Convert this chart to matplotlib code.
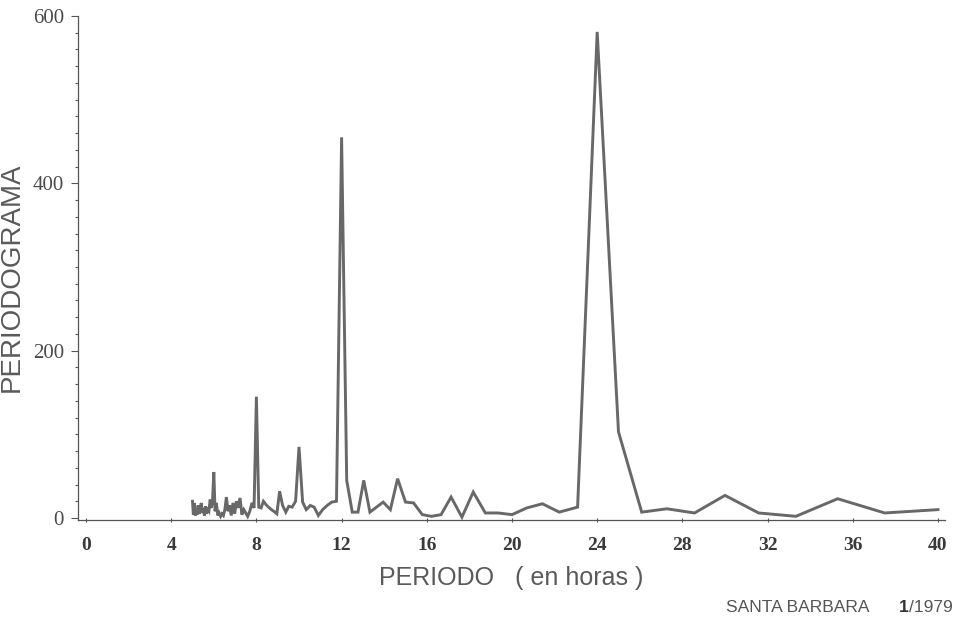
import matplotlib
matplotlib.use("Agg")
import matplotlib.pyplot as plt
from matplotlib.ticker import MultipleLocator

# Periods (hours) of the periodogram ordinates, from 40 h down to 5 h
periodo = [40.0, 37.5, 35.29, 33.33, 31.58, 30.0, 28.57, 27.27, 26.09, 25.0,
           24.0, 23.08, 22.22, 21.43, 20.69, 20.0, 19.35, 18.75, 18.18, 17.65,
           17.14, 16.67, 16.22, 15.79, 15.38, 15.0, 14.63, 14.29, 13.95, 13.64,
           13.33, 13.04, 12.77, 12.5, 12.24, 12.0, 11.76, 11.54, 11.32, 11.11,
           10.91, 10.71, 10.53, 10.34, 10.17, 10.0, 9.84, 9.68, 9.52, 9.38,
           9.23, 9.09, 8.96, 8.82, 8.70, 8.57, 8.45, 8.33, 8.22, 8.11,
           8.0, 7.89, 7.79, 7.69, 7.59, 7.5, 7.41, 7.32, 7.23, 7.14,
           7.06, 6.98, 6.90, 6.82, 6.74, 6.67, 6.59, 6.52, 6.45, 6.38,
           6.32, 6.25, 6.19, 6.12, 6.06, 6.0, 5.94, 5.88, 5.83, 5.77,
           5.71, 5.66, 5.61, 5.56, 5.50, 5.45, 5.41, 5.36, 5.31, 5.26,
           5.22, 5.17, 5.13, 5.08, 5.04, 5.0]

periodograma = [10, 6, 23, 2, 6, 27, 6, 11, 7, 103,
                581, 13, 7, 17, 12, 4, 6, 6, 31, 1,
                25, 4, 2, 4, 18, 19, 47, 10, 19, 13,
                7, 45, 7, 7, 45, 455, 20, 19, 15, 10,
                3, 13, 15, 10, 19, 85, 20, 13, 14, 7,
                15, 32, 5, 8, 10, 13, 16, 20, 12, 13,
                145, 12, 18, 8, 2, 6, 10, 4, 24, 12,
                20, 5, 18, 3, 15, 8, 25, 10, 3, 5,
                2, 6, 3, 18, 8, 55, 20, 12, 22, 8,
                10, 5, 14, 3, 12, 6, 18, 10, 5, 15,
                4, 8, 3, 18, 4, 20]

x_ticks = [0, 4, 8, 12, 16, 20, 24, 28, 32, 36, 40]
y_ticks = [0, 200, 400, 600]

W, H = 956, 623
fig = plt.figure(figsize=(W / 100, H / 100), dpi=100)
ax = fig.add_axes([78 / W, 1 - 520 / H, (945 - 78) / W, (520 - 16) / H])

ax.plot(periodo, periodograma, color="#686868", lw=2.1, solid_joinstyle="miter")

ax.set_xlim(-0.376, 40.33)
ax.set_ylim(-2.4, 600)

for s in ["top", "right"]:
    ax.spines[s].set_visible(False)
for s in ["left", "bottom"]:
    ax.spines[s].set_color("#555555")
    ax.spines[s].set_linewidth(0.9)

ax.set_xticks(x_ticks)
ax.set_xticklabels([str(v) for v in x_ticks], family="Liberation Serif",
                   fontsize=14, fontweight="bold", color="#3a3a3a")
ax.set_yticks(y_ticks)
ax.set_yticklabels([str(v) for v in y_ticks], family="Liberation Serif",
                   fontsize=15, color="#4a4a4a")
ax.yaxis.set_minor_locator(MultipleLocator(20))

ax.tick_params(axis="x", which="major", direction="inout", length=3,
               width=0.8, color="#555555", pad=11)
ax.tick_params(axis="y", which="major", direction="out", length=5,
               width=0.8, color="#555555", pad=5)
ax.tick_params(axis="y", which="minor", direction="out", length=2.5,
               width=0.8, color="#555555")

fig.text(12 / W, 1 - 277 / H, "PERIODOGRAMA", rotation=90, ha="center",
         va="center", family="Liberation Sans", fontsize=20, color="#5a5a5a")
fig.text(511 / W, 1 - 578 / H, "PERIODO   ( en horas )", ha="center",
         va="center", family="Liberation Sans", fontsize=18, color="#5a5a5a")

fig.text(870 / W, 1 - 607 / H, "SANTA BARBARA", ha="right", va="center",
         family="Liberation Sans", fontsize=12.5, color="#555555")
fig.text(909 / W, 1 - 607 / H, "1", ha="right", va="center",
         family="Liberation Sans", fontsize=12.5, fontweight="bold",
         color="#333333")
fig.text(909 / W, 1 - 607 / H, "/1979", ha="left", va="center",
         family="Liberation Sans", fontsize=12.5, color="#555555")

fig.savefig("out.png", dpi=100, facecolor="white")
